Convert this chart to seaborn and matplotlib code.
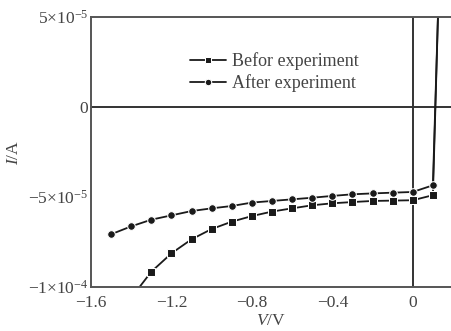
import matplotlib
matplotlib.use("Agg")
import matplotlib.pyplot as plt
import seaborn as sns

# %%
before_v = [-1.5, -1.4, -1.3, -1.2, -1.1, -1.0, -0.9, -0.8, -0.7, -0.6, -0.5,
            -0.4, -0.3, -0.2, -0.1, 0.0, 0.1, 0.13]
before_i = [-1.22e-4, -1.06e-4, -9.15e-5, -8.13e-5, -7.35e-5, -6.78e-5, -6.37e-5,
            -6.06e-5, -5.81e-5, -5.63e-5, -5.46e-5, -5.35e-5, -5.28e-5, -5.22e-5,
            -5.20e-5, -5.18e-5, -4.9e-5, 6.9e-5]

after_v = [-1.5, -1.4, -1.3, -1.2, -1.1, -1.0, -0.9, -0.8, -0.7, -0.6, -0.5,
           -0.4, -0.3, -0.2, -0.1, 0.0, 0.1, 0.13]
after_i = [-7.07e-5, -6.63e-5, -6.26e-5, -6.02e-5, -5.78e-5, -5.63e-5, -5.50e-5,
           -5.31e-5, -5.22e-5, -5.13e-5, -5.04e-5, -4.94e-5, -4.85e-5, -4.80e-5,
           -4.76e-5, -4.72e-5, -4.35e-5, 6.9e-5]

x_ticks = [-1.6, -1.2, -0.8, -0.4, 0.0]
x_labels = ["\u22121.6", "\u22121.2", "\u22120.8", "\u22120.4", "0"]
y_ticks = [5e-5, 0.0, -5e-5, -1e-4]
y_labels = ["5\u00d710$^{-5}$", "0", "\u22125\u00d710$^{-5}$", "\u22121\u00d710$^{-4}$"]

# %%
sns.set_style("white")
plt.rcParams["font.family"] = ["Liberation Serif", "DejaVu Serif"]
plt.rcParams["mathtext.fontset"] = "custom"
plt.rcParams["mathtext.rm"] = "Liberation Serif"
plt.rcParams["mathtext.it"] = "Liberation Serif:italic"

fig = plt.figure(figsize=(4.51, 3.31), dpi=100)
ax = fig.add_axes([91 / 451, 1 - 287 / 331, 360 / 451, 270 / 331])

line_kw = dict(color="#1a1a1a", linewidth=1.3, markersize=5.5, ax=ax, sort=False)
sns.lineplot(x=before_v, y=before_i, marker="s", label="Befor experiment", **line_kw)
sns.lineplot(x=after_v, y=after_i, marker="o", label="After experiment", **line_kw)

ax.axhline(0, color="#333333", linewidth=1.4, zorder=1)
ax.axvline(0, color="#333333", linewidth=1.4, zorder=1)

ax.set_xlim(-1.6, 0.19)
ax.set_ylim(-1e-4, 5e-5)
ax.set_xticks(x_ticks, x_labels)
ax.set_yticks(y_ticks, y_labels)
ax.tick_params(direction="in", length=3, labelsize=12.5, colors="#444444")
ax.tick_params(axis="x", pad=6)
ax.tick_params(axis="y", pad=2)

for side in ["left", "bottom", "top"]:
    ax.spines[side].set_color("#555555")
    ax.spines[side].set_linewidth(1.4)
ax.spines["right"].set_visible(False)

ax.set_xlabel("$V$/V", fontsize=12.5, color="#444444", labelpad=1)
ax.set_ylabel("$I$/A", fontsize=12.5, color="#444444", labelpad=4)

ax.legend(loc="upper left", bbox_to_anchor=(0.23, 0.93), frameon=False,
          fontsize=13, handlelength=2.0, handletextpad=0.3, labelspacing=0.25,
          markerscale=0.85, labelcolor="#444444")

fig.savefig("out.png", dpi=100)
